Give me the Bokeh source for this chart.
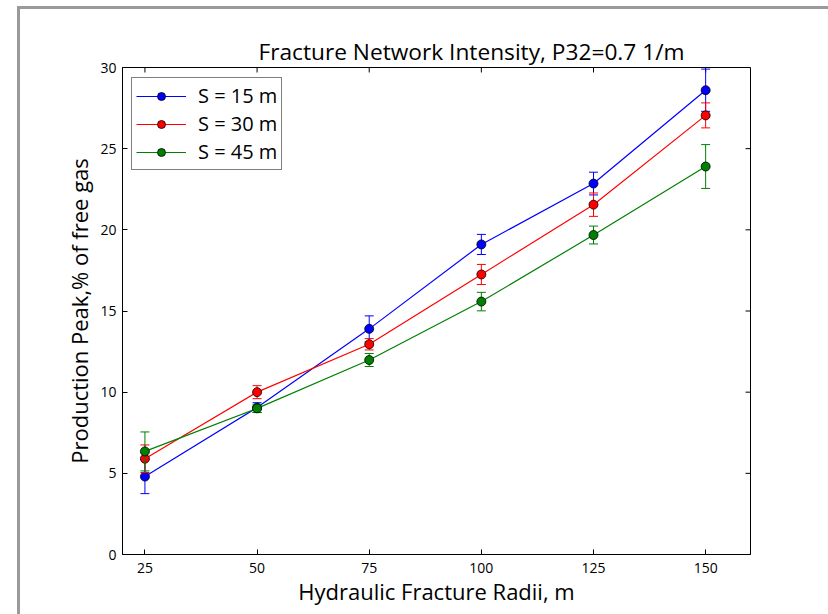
import math
from bokeh.plotting import figure
from bokeh.models import Range1d, Legend, LegendItem, FixedTicker
from bokeh.embed import file_html
from bokeh.resources import INLINE

# ---- data ----
radii = [25, 50, 75, 100, 125, 150]
s15 = [4.8, 9.05, 13.9, 19.1, 22.85, 28.6]
s15_err = [1.05, 0.3, 0.8, 0.62, 0.7, 1.3]
s30 = [5.9, 10.0, 12.95, 17.25, 21.55, 27.05]
s30_err = [0.85, 0.4, 0.35, 0.62, 0.72, 0.77]
s45 = [6.35, 9.0, 11.98, 15.58, 19.68, 23.9]
s45_err = [1.2, 0.25, 0.4, 0.57, 0.55, 1.35]
labels = ["S = 15 m", "S = 30 m", "S = 45 m"]
colors = ["#0000ff", "#ff0000", "#008000"]
x_ticks = [25, 50, 75, 100, 125, 150]
y_ticks = [0, 5, 10, 15, 20, 25, 30]
x_lim = (20, 160)
y_lim = (0, 30)

FONT = "Open Sans"

frame_css = {
    "background-image": "linear-gradient(#9a9a9a,#9a9a9a), linear-gradient(#9a9a9a,#9a9a9a)",
    "background-size": "820px 3px, 3px 620px",
    "background-position": "17px 6px, 17px 6px",
    "background-repeat": "no-repeat",
    "background-color": "white",
}

p = figure(frame_width=628, frame_height=487,
           x_range=Range1d(*x_lim), y_range=Range1d(*y_lim),
           output_backend="svg", toolbar_location=None,
           min_border_left=122, min_border_right=78,
           min_border_top=67, min_border_bottom=60,
           background_fill_color="white", border_fill_color=None,
           styles=frame_css)
p.outline_line_color = "black"
p.outline_line_width = 1
p.xgrid.visible = False
p.ygrid.visible = False

for ax, ticks in ((p.xaxis[0], x_ticks), (p.yaxis[0], y_ticks)):
    ax.ticker = FixedTicker(ticks=ticks)
    ax.axis_line_color = "black"
    ax.axis_line_width = 1
    ax.major_tick_in = 5
    ax.major_tick_out = 0
    ax.major_tick_line_color = "black"
    ax.minor_tick_line_color = None
    ax.major_label_text_font = FONT
    ax.major_label_text_font_size = "14px"
    ax.major_label_text_color = "black"
    ax.axis_label_text_font = FONT
    ax.axis_label_text_font_size = "22px"
    ax.axis_label_text_font_style = "normal"
    ax.axis_label_text_color = "black"

p.xaxis[0].major_label_standoff = 8
p.yaxis[0].major_label_standoff = 6
p.xaxis[0].axis_label = "Hydraulic Fracture Radii, m"
p.yaxis[0].axis_label = "Production Peak,% of free gas"
p.xaxis[0].axis_label_standoff = 0
p.yaxis[0].axis_label_standoff = 3

# inward ticks on the top and right edges of the box
p.ray(x=x_ticks, y=[y_lim[1]] * len(x_ticks), length=5, length_units="screen",
      angle=-math.pi / 2, line_color="black", line_width=1)
p.ray(x=[x_lim[1]] * len(y_ticks), y=y_ticks, length=5, length_units="screen",
      angle=math.pi, line_color="black", line_width=1)

p.title.text = "Fracture Network Intensity, P32=0.7 1/m"
p.title.align = "left"
p.title.offset = 136
p.title.text_font = FONT
p.title.text_font_size = "22.7px"
p.title.text_font_style = "normal"
p.title.text_color = "black"
p.title.standoff = 1

items = []
for vals, errs, lab, col in zip([s15, s30, s45], [s15_err, s30_err, s45_err], labels, colors):
    lower = [v - e for v, e in zip(vals, errs)]
    upper = [v + e for v, e in zip(vals, errs)]
    p.segment(x0=radii, y0=lower, x1=radii, y1=upper, line_color=col, line_width=1)
    p.scatter(radii, upper, marker="dash", size=9, line_color=col, line_width=1)
    p.scatter(radii, lower, marker="dash", size=9, line_color=col, line_width=1)
    ln = p.line(radii, vals, line_color=col, line_width=1.2)
    mk = p.scatter(radii, vals, marker="circle", size=9, fill_color=col,
                   line_color="black", line_width=0.8)
    items.append(LegendItem(label=lab, renderers=[ln, mk]))

legend = Legend(items=items, location=(9, 384))
legend.margin = 0
legend.padding = 4
legend.spacing = 1
legend.glyph_width = 50
legend.glyph_height = 20
legend.label_height = 20
legend.label_standoff = 12
legend.label_text_font = FONT
legend.label_text_font_size = "20px"
legend.label_text_color = "black"
legend.border_line_color = "black"
legend.border_line_width = 1
legend.background_fill_color = "white"
legend.background_fill_alpha = 1
p.add_layout(legend)

open("out.html", "w").write(file_html(p, INLINE))
